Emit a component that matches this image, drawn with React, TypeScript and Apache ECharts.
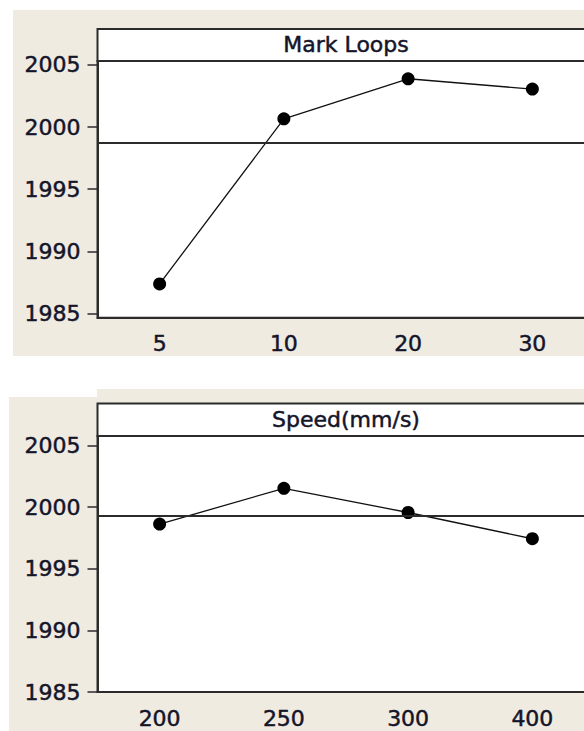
import React, { useEffect, useRef } from "react";
import * as echarts from "echarts";

const loopCats = ["5", "10", "20", "30"];
const loopVals = [1987.38, 2000.67, 2003.89, 2003.06];
const speedCats = ["200", "250", "300", "400"];
const speedVals = [1998.63, 2001.53, 1999.57, 1997.44];
const yTicks = [1985, 1990, 1995, 2000, 2005];
const titles = ["Mark Loops", "Speed(mm/s)"];

const mean = (a: number[]) => a.reduce((s, v) => s + v, 0) / a.length;

const FONT = "DejaVu Sans";
const TXT = "#15152a";
const BEIGE = "#efebe1";
const W = 640;

export default function App() {
  const ref = useRef<HTMLDivElement>(null);
  useEffect(() => {
    const chart = echarts.init(ref.current!, null, { renderer: "svg" });
    const grids = [
      { left: 97.5, top: 61, width: 497, height: 256.7 },
      { left: 97.5, top: 436, width: 497, height: 256 },
    ];
    const yRanges = [
      [1984.66, 2005.32],
      [1985, 2005.78],
    ];
    const cats = [loopCats, speedCats];
    const vals = [loopVals, speedVals];
    const textStyle = { color: TXT, fontFamily: FONT, fontSize: 22, textBorderColor: TXT, textBorderWidth: 0.5 };
    chart.setOption({
      animation: false,
      backgroundColor: "#ffffff",
      graphic: [
        { type: "rect", z: -10, shape: { x: 13, y: 10, width: W, height: 346 }, style: { fill: BEIGE } },
        { type: "rect", z: -10, shape: { x: 9, y: 397, width: 89, height: 334 }, style: { fill: BEIGE } },
        { type: "rect", z: -10, shape: { x: 97, y: 389, width: W, height: 342 }, style: { fill: BEIGE } },
        { type: "rect", z: 5, shape: { x: 97.5, y: 29, width: 497, height: 32 }, style: { fill: "#ffffff", stroke: "#2b2b2b", lineWidth: 2 } },
        { type: "rect", z: 5, shape: { x: 97.5, y: 403.5, width: 497, height: 32.5 }, style: { fill: "#ffffff", stroke: "#2b2b2b", lineWidth: 2 } },
        { type: "text", z: 6, x: 346, y: 44, style: { text: titles[0], fill: TXT, stroke: TXT, lineWidth: 0.5, font: `22px "${FONT}"`, align: "center", verticalAlign: "middle" } },
        { type: "text", z: 6, x: 346, y: 419, style: { text: titles[1], fill: TXT, stroke: TXT, lineWidth: 0.5, font: `22px "${FONT}"`, align: "center", verticalAlign: "middle" } },
      ],
      grid: grids.map((g) => ({ ...g, show: true, backgroundColor: "#ffffff", borderColor: "#2b2b2b", borderWidth: 2 })),
      xAxis: [0, 1].map((i) => ({
        type: "category",
        gridIndex: i,
        data: cats[i],
        boundaryGap: true,
        axisLine: { lineStyle: { color: "#2b2b2b", width: 2 } },
        axisTick: { alignWithLabel: true, length: 9, lineStyle: { color: "#2b2b2b", width: 1.5 } },
        axisLabel: { margin: 15, ...textStyle },
        splitLine: { show: false },
      })),
      yAxis: [0, 1].map((i) => ({
        type: "value",
        gridIndex: i,
        min: yRanges[i][0],
        max: yRanges[i][1],
        axisLine: { show: true, lineStyle: { color: "#2b2b2b", width: 2 } },
        axisTick: { show: true, length: 10, customValues: yTicks, lineStyle: { color: "#2b2b2b", width: 1.5 } },
        axisLabel: {
          margin: 17,
          ...textStyle,
          customValues: yTicks,
          formatter: (v: number) => String(Math.round(v)),
        },
        splitLine: { show: false },
      })),
      series: [0, 1].map((i) => ({
        type: "line",
        xAxisIndex: i,
        yAxisIndex: i,
        data: vals[i],
        symbol: "circle",
        symbolSize: 13,
        itemStyle: { color: "#000000" },
        lineStyle: { color: "#111111", width: 1.3 },
        z: 4,
        markLine: {
          silent: true,
          symbol: "none",
          label: { show: false },
          lineStyle: { color: "#2b2b2b", width: 1.8, type: "solid" },
          data: [{ yAxis: mean(vals[i]) }],
        },
      })),
    });
    return () => chart.dispose();
  }, []);
  return <div ref={ref} style={{ position: "fixed", left: 0, top: 0, width: W, height: 731 }} />;
}
